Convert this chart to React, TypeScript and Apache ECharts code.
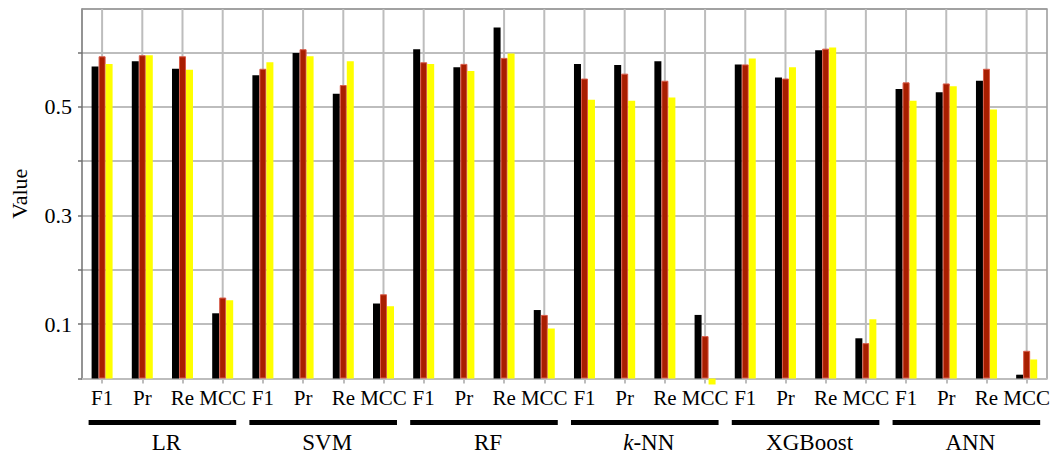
import React, { useEffect, useRef } from 'react';
import * as echarts from 'echarts';

const groups = ['LR', 'SVM', 'RF', 'k-NN', 'XGBoost', 'ANN'];
const metrics = ['F1', 'Pr', 'Re', 'MCC'];
const yTickLabels = ['0.1', '0.3', '0.5'];

// black bars
const seriesBlack = [
  0.574, 0.584, 0.570, 0.120,
  0.558, 0.599, 0.524, 0.138,
  0.606, 0.573, 0.646, 0.126,
  0.579, 0.577, 0.584, 0.117,
  0.578, 0.554, 0.604, 0.074,
  0.533, 0.527, 0.548, 0.007,
];
// red bars
const seriesRed = [
  0.593, 0.595, 0.593, 0.149,
  0.570, 0.606, 0.540, 0.155,
  0.582, 0.579, 0.590, 0.117,
  0.552, 0.561, 0.548, 0.078,
  0.578, 0.552, 0.607, 0.065,
  0.545, 0.543, 0.570, 0.051,
];
// yellow bars
const seriesYellow = [
  0.579, 0.595, 0.568, 0.144,
  0.582, 0.593, 0.584, 0.133,
  0.579, 0.566, 0.598, 0.092,
  0.513, 0.511, 0.517, -0.011,
  0.589, 0.573, 0.609, 0.109,
  0.511, 0.538, 0.495, 0.035,
];

const categories: string[] = [];
groups.forEach((g) => metrics.forEach((m) => categories.push(g + '|' + m)));

const FONT = '"Liberation Serif", "Times New Roman", serif';
const GRID_COLOR = '#bdbdbd';

export default function App() {
  const ref = useRef<HTMLDivElement>(null);
  useEffect(() => {
    if (!ref.current) return;
    const chart = echarts.init(ref.current, null, { renderer: 'svg' });
    const barBase = { type: 'bar', barWidth: 7, barGap: '0%', clip: false, z: 5 };
    chart.setOption({
      animation: false,
      backgroundColor: '#ffffff',
      grid: { left: 82, right: 6, top: 9, bottom: 76.5 },
      xAxis: [
        {
          type: 'category',
          data: categories,
          boundaryGap: true,
          axisLine: { show: true, lineStyle: { color: GRID_COLOR, width: 2 } },
          axisTick: { show: true, alignWithLabel: true, length: 5, lineStyle: { color: GRID_COLOR, width: 2 } },
          splitLine: { show: false },
          axisLabel: {
            interval: 0,
            margin: 9,
            color: '#000',
            fontFamily: FONT,
            fontSize: 21,
            formatter: (v: string) => v.split('|')[1],
          },
        },
        {
          // top border
          type: 'category',
          position: 'top',
          data: categories,
          axisLine: { show: true, onZero: false, lineStyle: { color: '#999999', width: 1.5 } },
          axisTick: { show: false },
          axisLabel: { show: false },
          splitLine: { show: false },
        },
      ],
      yAxis: [
        {
          type: 'value',
          min: 0,
          max: 0.68,
          interval: 0.1,
          name: 'Value',
          nameLocation: 'middle',
          nameGap: 52,
          nameTextStyle: { color: '#000', fontFamily: FONT, fontSize: 22 },
          axisLine: { show: true, lineStyle: { color: '#707070', width: 1.5 } },
          axisTick: { show: true, length: 4, lineStyle: { color: '#707070', width: 1.5 } },
          splitLine: { show: true, lineStyle: { color: GRID_COLOR, width: 2, type: 'solid' } },
          axisLabel: {
            margin: 10,
            color: '#000',
            fontFamily: FONT,
            fontSize: 22,
            showMaxLabel: false,
            formatter: (v: number) => {
              const s = v.toFixed(1);
              return yTickLabels.indexOf(s) >= 0 ? s : '';
            },
          },
        },
        {
          // right border
          type: 'value',
          position: 'right',
          min: 0,
          max: 0.68,
          axisLine: { show: true, onZero: false, lineStyle: { color: '#999999', width: 1.5 } },
          axisTick: { show: false },
          axisLabel: { show: false },
          splitLine: { show: false },
        },
      ],
      series: [
        { ...barBase, name: 'black', data: seriesBlack, itemStyle: { color: '#000000' } },
        {
          ...barBase,
          name: 'red',
          data: seriesRed,
          itemStyle: { color: '#a81e00', borderColor: '#d85a48', borderWidth: 1 },
        },
        { ...barBase, name: 'yellow', data: seriesYellow, itemStyle: { color: '#ffff00' } },
      ],
    });

    const baseY = chart.convertToPixel({ yAxisIndex: 0 }, 0) as number;
    const topY = chart.convertToPixel({ yAxisIndex: 0 }, 0.68) as number;
    const elements: any[] = [];
    // vertical grid lines at category centres
    categories.forEach((c, ci) => {
      const x = chart.convertToPixel({ xAxisIndex: 0 }, ci) as number;
      elements.push({
        type: 'line',
        z: 1,
        shape: { x1: x, y1: topY, x2: x, y2: baseY },
        style: { stroke: GRID_COLOR, lineWidth: 2 },
        silent: true,
      });
    });
    groups.forEach((g, gi) => {
      const x0 = chart.convertToPixel({ xAxisIndex: 0 }, gi * 4) as number;
      const x3 = chart.convertToPixel({ xAxisIndex: 0 }, gi * 4 + 3) as number;
      const cx = (x0 + x3) / 2;
      const half = (x3 - x0) / 2 + 13.5;
      elements.push({
        type: 'line',
        shape: { x1: cx - half, y1: baseY + 44, x2: cx + half, y2: baseY + 44 },
        style: { stroke: '#000', lineWidth: 5 },
        silent: true,
      });
      const isKnn = g === 'k-NN';
      elements.push({
        type: 'text',
        x: cx + 4,
        y: baseY + 64,
        style: {
          text: isKnn ? '{i|k}-NN' : g,
          fill: '#000',
          fontFamily: FONT,
          fontSize: 23,
          align: 'center',
          verticalAlign: 'middle',
          rich: isKnn ? { i: { fontStyle: 'italic', fontFamily: FONT, fontSize: 23 } } : undefined,
        },
        silent: true,
      });
    });
    chart.setOption({ graphic: { elements } });

    return () => chart.dispose();
  }, []);

  return (
    <div
      ref={ref}
      style={{ position: 'fixed', left: 0, top: 0, width: 1053, height: 455, background: '#fff' }}
    />
  );
}
